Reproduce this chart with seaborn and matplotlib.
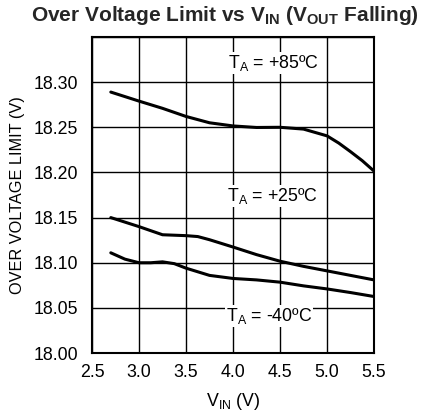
import matplotlib
matplotlib.use("Agg")
import matplotlib.pyplot as plt
import seaborn as sns
import pandas as pd

vin_85 = [2.7, 3.0, 3.25, 3.5, 3.75, 4.0, 4.25, 4.5, 4.75, 5.0, 5.125, 5.25, 5.375, 5.5]
ovl_85 = [18.289, 18.279, 18.271, 18.262, 18.255, 18.2515, 18.2498, 18.250, 18.248, 18.2405,
          18.2325, 18.223, 18.213, 18.2015]
vin_25 = [2.7, 3.0, 3.25, 3.5, 3.625, 3.75, 4.0, 4.25, 4.5, 4.75, 5.0, 5.25, 5.5]
ovl_25 = [18.150, 18.140, 18.131, 18.130, 18.129, 18.1255, 18.1174, 18.109, 18.1017, 18.096,
          18.091, 18.086, 18.081]
vin_m40 = [2.7, 2.85, 3.0, 3.125, 3.25, 3.375, 3.5, 3.75, 4.0, 4.25, 4.5, 4.75, 5.0, 5.25, 5.5]
ovl_m40 = [18.111, 18.104, 18.100, 18.100, 18.101, 18.099, 18.094, 18.086, 18.0826, 18.081,
           18.0785, 18.0744, 18.071, 18.067, 18.0626]
series_labels = ["T$\\mathregular{_A}$ = +85ºC", "T$\\mathregular{_A}$ = +25ºC", "T$\\mathregular{_A}$ = -40ºC"]
label_x = [4.43, 4.42, 4.38]
label_y = [18.321, 18.174, 18.041]
xticks = [2.5, 3.0, 3.5, 4.0, 4.5, 5.0, 5.5]
yticks = [18.00, 18.05, 18.10, 18.15, 18.20, 18.25, 18.30]

df = pd.concat([
    pd.DataFrame({"vin": vin_85, "ovl": ovl_85, "s": "85"}),
    pd.DataFrame({"vin": vin_25, "ovl": ovl_25, "s": "25"}),
    pd.DataFrame({"vin": vin_m40, "ovl": ovl_m40, "s": "-40"}),
])

sns.set_style("white")
plt.rcParams['font.family'] = ['Liberation Sans', 'DejaVu Sans']

fig = plt.figure(figsize=(4.26, 4.11), dpi=100)
ax = fig.add_axes([0.216, 0.141, 0.662, 0.769])
sns.lineplot(data=df, x="vin", y="ovl", units="s", estimator=None, color="black",
             linewidth=2.2, ax=ax, legend=False, sort=False)
for l in ax.lines:
    l.set_solid_joinstyle("round")
    l.set_solid_capstyle("round")

ax.set_xlim(2.5, 5.5)
ax.set_ylim(18.00, 18.35)
ax.set_xticks(xticks)
ax.set_xticklabels([f"{v:.1f}" for v in xticks])
ax.set_yticks(yticks + [18.35])
ax.set_yticklabels([f"{v:.2f}" for v in yticks] + [""])
ax.grid(True, color="black", linewidth=1.0)
ax.tick_params(axis="both", length=0, labelsize=12.8, colors="black")
ax.tick_params(axis="y", pad=10)
ax.tick_params(axis="x", pad=8)
for sp in ax.spines.values():
    sp.set_color("black")
    sp.set_linewidth(1.5)

for t, x, y in zip(series_labels, label_x, label_y):
    ax.text(x, y, t, ha="center", va="center", fontsize=12.8, color="black",
            bbox=dict(facecolor="white", edgecolor="none", pad=0.5))

ax.set_xlabel("V$_{\\mathregular{IN}}$ (V)", fontsize=12.8, color="black", labelpad=7)
ax.set_ylabel("OVER VOLTAGE LIMIT (V)", fontsize=11.7, color="black", labelpad=6)
fig.suptitle("Over Voltage Limit vs V$_{\\mathregular{IN}}$ (V$_{\\mathregular{OUT}}$ Falling)",
             fontsize=15, fontweight="bold", x=0.529, y=0.99)
fig.savefig("out.png", dpi=100)
